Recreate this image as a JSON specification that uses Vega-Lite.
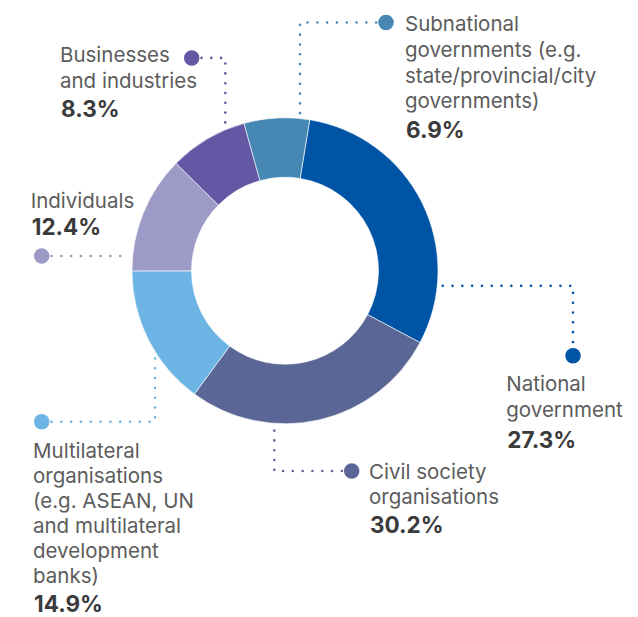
{
  "$schema": "https://vega.github.io/schema/vega-lite/v6.json",
  "width": 638,
  "height": 617,
  "autosize": {"type": "fit", "contains": "padding"},
  "padding": 0,
  "background": "white",
  "config": {"view": {"stroke": null}},
  "datasets": {
    "segments": [
      {"category": "National", "ord": 1, "share": 30.2},
      {"category": "Civil", "ord": 2, "share": 27.3},
      {"category": "Multilateral", "ord": 3, "share": 14.9},
      {"category": "Individuals", "ord": 4, "share": 12.4},
      {"category": "Businesses", "ord": 5, "share": 8.3},
      {"category": "Subnational", "ord": 6, "share": 6.9}
    ],
    "leaders": [
      {"category": "Subnational", "seq": 1, "x": 101, "y": 249.8},
      {"category": "Subnational", "seq": 2, "x": 15, "y": 249.8},
      {"category": "Subnational", "seq": 3, "x": 15, "y": 153.5},
      {"category": "Businesses", "seq": 1, "x": -93.3, "y": 214.2},
      {"category": "Businesses", "seq": 2, "x": -59.7, "y": 214.2},
      {"category": "Businesses", "seq": 3, "x": -59.7, "y": 146.5},
      {"category": "Individuals", "seq": 1, "x": -243.3, "y": 14.8},
      {"category": "Individuals", "seq": 2, "x": -159, "y": 14.8},
      {"category": "Multilateral", "seq": 1, "x": -243.3, "y": -152},
      {"category": "Multilateral", "seq": 2, "x": -130, "y": -152},
      {"category": "Multilateral", "seq": 3, "x": -130, "y": -82.5},
      {"category": "Civil", "seq": 1, "x": 66.7, "y": -201.5},
      {"category": "Civil", "seq": 2, "x": -10.7, "y": -201.5},
      {"category": "Civil", "seq": 3, "x": -10.7, "y": -155.5},
      {"category": "National", "seq": 1, "x": 157.7, "y": -15.2},
      {"category": "National", "seq": 2, "x": 288, "y": -15.2},
      {"category": "National", "seq": 3, "x": 288, "y": -85.5}
    ],
    "dots": [
      {"category": "Subnational", "x": 101, "y": 249.8},
      {"category": "Businesses", "x": -93.3, "y": 214.2},
      {"category": "Individuals", "x": -243.3, "y": 14.8},
      {"category": "Multilateral", "x": -243.3, "y": -152},
      {"category": "Civil", "x": 66.7, "y": -201.5},
      {"category": "National", "x": 288, "y": -85.5}
    ],
    "labels": [
      {"kind": "name", "text": "Subnational", "x": 120, "y": 240.8},
      {"kind": "name", "text": "governments (e.g.", "x": 120, "y": 215.1},
      {"kind": "name", "text": "state/provincial/city", "x": 120, "y": 189.4},
      {"kind": "name", "text": "governments)", "x": 120, "y": 163.7},
      {"kind": "pct", "text": "6.9%", "x": 121, "y": 133.2},
      {"kind": "name", "text": "Businesses", "x": -225, "y": 209.8},
      {"kind": "name", "text": "and industries", "x": -225, "y": 184.2},
      {"kind": "pct", "text": "8.3%", "x": -224, "y": 155.2},
      {"kind": "name", "text": "Individuals", "x": -254.3, "y": 63.2},
      {"kind": "pct", "text": "12.4%", "x": -253.3, "y": 35.8},
      {"kind": "name", "text": "Multilateral", "x": -252, "y": -188.2},
      {"kind": "name", "text": "organisations", "x": -252, "y": -213.5},
      {"kind": "name", "text": "(e.g. ASEAN, UN", "x": -252, "y": -238.5},
      {"kind": "name", "text": "and multilateral", "x": -252, "y": -264.2},
      {"kind": "name", "text": "development", "x": -252, "y": -289.2},
      {"kind": "name", "text": "banks)", "x": -252, "y": -314.8},
      {"kind": "pct", "text": "14.9%", "x": -251, "y": -343.5},
      {"kind": "name", "text": "Civil society", "x": 84, "y": -209.2},
      {"kind": "name", "text": "organisations", "x": 84, "y": -234.8},
      {"kind": "pct", "text": "30.2%", "x": 85, "y": -263.5},
      {"kind": "name", "text": "National", "x": 221.3, "y": -121.5},
      {"kind": "name", "text": "government", "x": 221.3, "y": -146.8},
      {"kind": "pct", "text": "27.3%", "x": 222.3, "y": -178.5}
    ]
  },
  "layer": [
    {
      "data": {"name": "segments"},
      "mark": {"type": "arc", "outerRadius": 153, "innerRadius": 93.5, "stroke": "white", "strokeWidth": 0.6},
      "encoding": {
        "x": {"datum": 0, "type": "quantitative", "scale": {"domain": [-285, 353], "nice": false, "zero": false}, "axis": null},
        "y": {"datum": 0, "type": "quantitative", "scale": {"domain": [-344.5, 272.5], "nice": false, "zero": false}, "axis": null},
        "theta": {"field": "share", "type": "quantitative", "stack": true, "scale": {"type": "linear", "domain": [0, 100], "range": [0.1623, 6.4455]}},
        "order": {"field": "ord", "type": "quantitative"},
        "color": {"field": "category", "type": "nominal", "legend": null,
          "scale": {"domain": ["National", "Civil", "Multilateral", "Individuals", "Businesses", "Subnational"],
                    "range": ["#0054a5", "#5a6796", "#6cb4e4", "#9d9ac8", "#6258a3", "#4787b3"]}}
      }
    },
    {
      "data": {"name": "leaders"},
      "mark": {"type": "line", "strokeDash": [0.01, 9.8], "strokeCap": "round", "strokeWidth": 2.6},
      "encoding": {
        "x": {"field": "x", "type": "quantitative", "scale": {"domain": [-285, 353], "nice": false, "zero": false}, "axis": null},
        "y": {"field": "y", "type": "quantitative", "scale": {"domain": [-344.5, 272.5], "nice": false, "zero": false}, "axis": null},
        "color": {"field": "category", "type": "nominal", "legend": null},
        "detail": {"field": "category"},
        "order": {"field": "seq", "type": "quantitative"}
      }
    },
    {
      "data": {"name": "dots"},
      "mark": {"type": "circle", "size": 240, "opacity": 1},
      "encoding": {
        "x": {"field": "x", "type": "quantitative", "scale": {"domain": [-285, 353], "nice": false, "zero": false}, "axis": null},
        "y": {"field": "y", "type": "quantitative", "scale": {"domain": [-344.5, 272.5], "nice": false, "zero": false}, "axis": null},
        "color": {"field": "category", "type": "nominal", "legend": null}
      }
    },
    {
      "data": {"name": "labels"},
      "transform": [{"filter": "datum.kind === 'name'"}],
      "mark": {"type": "text", "align": "left", "baseline": "alphabetic", "font": "Inter", "fontSize": 20.5, "fontWeight": 400, "color": "#5c5c5c"},
      "encoding": {
        "x": {"field": "x", "type": "quantitative", "scale": {"domain": [-285, 353], "nice": false, "zero": false}, "axis": null},
        "y": {"field": "y", "type": "quantitative", "scale": {"domain": [-344.5, 272.5], "nice": false, "zero": false}, "axis": null},
        "text": {"field": "text"}
      }
    },
    {
      "data": {"name": "labels"},
      "transform": [{"filter": "datum.kind === 'pct'"}],
      "mark": {"type": "text", "align": "left", "baseline": "alphabetic", "font": "Inter", "fontSize": 22.5, "fontWeight": 700, "letterSpacing": 1, "color": "#3b3b3b"},
      "encoding": {
        "x": {"field": "x", "type": "quantitative", "scale": {"domain": [-285, 353], "nice": false, "zero": false}, "axis": null},
        "y": {"field": "y", "type": "quantitative", "scale": {"domain": [-344.5, 272.5], "nice": false, "zero": false}, "axis": null},
        "text": {"field": "text"}
      }
    }
  ]
}
